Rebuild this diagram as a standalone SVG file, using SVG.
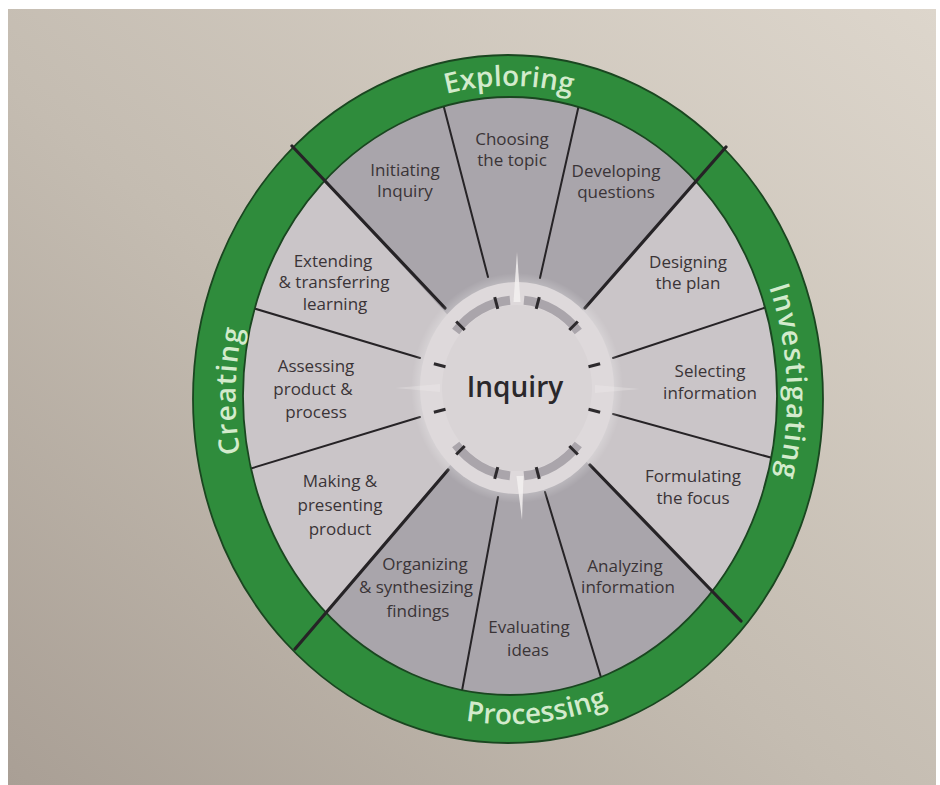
<svg xmlns="http://www.w3.org/2000/svg" width="940" height="785" viewBox="0 0 940 785">
  <defs>
    <linearGradient id="paper" x1="0" y1="1" x2="1" y2="0">
      <stop offset="0" stop-color="#a99f95"/>
      <stop offset="0.45" stop-color="#c4bcb1"/>
      <stop offset="1" stop-color="#ddd6cc"/>
    </linearGradient>
    <radialGradient id="hubGlow" cx="0.5" cy="0.5" r="0.5">
      <stop offset="0.8" stop-color="#ffffff" stop-opacity="0.5"/>
      <stop offset="1" stop-color="#ffffff" stop-opacity="0"/>
    </radialGradient>
    <!-- baselines for the phase names around the ring -->
    <path id="arcTop" d="M268.2,241.5 A278,311 0 0,1 749.8,241.5"/>
    <path id="arcRight" d="M648,127.7 A278,311 0 0,1 672.4,648.6"/>
    <path id="arcBottom" d="M281.3,608.2 A298,327 0 0,0 767.6,559.5"/>
    <path id="arcLeft" d="M355.2,649.8 A274,306 0 0,1 365.5,136.6"/>
  </defs>
  <style>
    .lbl { font-family: "Open Sans", "Liberation Sans", sans-serif; font-size: 17px; fill: #3a3437; text-anchor: middle; }
    .phase { font-family: "Open Sans", "Liberation Sans", sans-serif; font-size: 28px; font-weight: 600; fill: #d3ebcc; text-anchor: middle; }
    .div { stroke: #262326; stroke-width: 2; stroke-linecap: round; fill: none; }
    .major { stroke-width: 3.2; }
    .tick { stroke: #2d2a2d; stroke-width: 3; }
    .band { stroke: #aaa5ab; stroke-width: 9; fill: none; }
    .spike { fill: #f3f0f0; }
  </style>

  <!-- page -->
  <rect width="940" height="785" fill="#ffffff"/>
  <rect x="8" y="9" width="928" height="776" fill="url(#paper)"/>

  <!-- wheel body -->
  <g id="wheel">
    <ellipse cx="510" cy="396" rx="269" ry="301" fill="#cac5c8"/>
    <polygon id="sector-exploring" fill="#a9a5ab" points="515,388 293,147 363,119 434,87 509,76 584,87 654,119 725,148"/>
    <polygon id="sector-processing" fill="#a9a5ab" points="515,388 740,620 654,675 584,707 509,718 434,707 363,675 296,648"/>
  </g>

  <!-- dividers between the stages -->
  <g id="connectors">
    <line class="div" x1="488" y1="277" x2="441" y2="96"/>
    <line class="div" x1="540" y1="278" x2="580" y2="100"/>
    <line class="div" x1="613" y1="358" x2="770" y2="306"/>
    <line class="div" x1="613" y1="414" x2="776" y2="459"/>
    <line class="div" x1="545" y1="492" x2="603" y2="684"/>
    <line class="div" x1="498" y1="497" x2="461" y2="696"/>
    <line class="div" x1="420" y1="417" x2="246" y2="470"/>
    <line class="div" x1="420" y1="358" x2="246" y2="306"/>
  </g>

  <!-- green phase ring -->
  <path id="ring" fill="#2f8c3c" fill-rule="evenodd" stroke="#1a4620" stroke-width="1.8"
        d="M193,399 A315,344 0 1,0 823,399 A315,344 0 1,0 193,399 Z M243,396 A267,299 0 1,0 777,396 A267,299 0 1,0 243,396 Z"/>

  <!-- phase boundaries run across the ring -->
  <g id="phase-boundaries">
    <line class="div major" x1="445" y1="308" x2="292" y2="146"/>
    <line class="div major" x1="585" y1="308" x2="726" y2="147"/>
    <line class="div major" x1="590" y1="465" x2="741" y2="621"/>
    <line class="div major" x1="448" y1="470" x2="295" y2="649"/>
  </g>

  <!-- central hub -->
  <g id="hub">
    <ellipse cx="517" cy="388" rx="106" ry="115" fill="url(#hubGlow)"/>
    <ellipse cx="517" cy="388" rx="97" ry="106" fill="#ded9db"/>
    <ellipse cx="517" cy="388" rx="75" ry="83" fill="#d9d4d6"/>
    <path class="band" d="M455.7,331.4 A80,88 0 0,1 510,300.3"/>
    <path class="band" d="M524,300.3 A80,88 0 0,1 578.3,331.4"/>
    <path class="band" d="M578.3,444.6 A80,88 0 0,1 524,475.7"/>
    <path class="band" d="M510,475.7 A80,88 0 0,1 455.7,444.6"/>
    <polygon class="spike" opacity="0.85" points="517,252 513.5,302 520.5,302"/>
    <polygon class="spike" opacity="0.85" points="522,520 516.5,476 523.5,476"/>
    <polygon class="spike" opacity="0.3" points="395,388 440,384 440,392"/>
    <polygon class="spike" opacity="0.3" points="640,389 595,385 595,393"/>
    <g id="hub-ticks">
      <line class="tick" x1="536.2" y1="308.8" x2="539.3" y2="297.2"/>
      <line class="tick" x1="497.8" y1="308.8" x2="494.7" y2="297.2"/>
      <line class="tick" x1="569.3" y1="330" x2="577.8" y2="321.5"/>
      <line class="tick" x1="464.7" y1="330" x2="456.2" y2="321.5"/>
      <line class="tick" x1="588.5" y1="366.8" x2="600.1" y2="363.7"/>
      <line class="tick" x1="445.5" y1="366.8" x2="433.9" y2="363.7"/>
      <line class="tick" x1="588.5" y1="409.2" x2="600.1" y2="412.3"/>
      <line class="tick" x1="445.5" y1="409.2" x2="433.9" y2="412.3"/>
      <line class="tick" x1="569.3" y1="446" x2="577.8" y2="454.5"/>
      <line class="tick" x1="464.7" y1="446" x2="456.2" y2="454.5"/>
      <line class="tick" x1="536.2" y1="467.2" x2="539.3" y2="478.8"/>
      <line class="tick" x1="497.8" y1="467.2" x2="494.7" y2="478.8"/>
    </g>
    <text x="515" y="397" font-family="'Open Sans', 'Liberation Sans', sans-serif" font-size="28" font-weight="600" fill="#2b282b" text-anchor="middle">Inquiry</text>
  </g>

  <!-- stages -->
  <g id="initiating-inquiry"><text class="lbl" x="405" y="176">Initiating<tspan x="405" dy="21">Inquiry</tspan></text></g>
  <g id="choosing-the-topic"><text class="lbl" x="512" y="145">Choosing<tspan x="512" dy="21">the topic</tspan></text></g>
  <g id="developing-questions"><text class="lbl" x="616" y="177">Developing<tspan x="616" dy="21">questions</tspan></text></g>
  <g id="designing-the-plan"><text class="lbl" x="688" y="268">Designing<tspan x="688" dy="21">the plan</tspan></text></g>
  <g id="selecting-information"><text class="lbl" x="710" y="377">Selecting<tspan x="710" dy="22">information</tspan></text></g>
  <g id="formulating-the-focus"><text class="lbl" x="693" y="482">Formulating<tspan x="693" dy="22">the focus</tspan></text></g>
  <g id="analyzing-information"><text class="lbl" x="625" y="572">Analyzing<tspan x="628" dy="21">information</tspan></text></g>
  <g id="evaluating-ideas"><text class="lbl" x="529" y="633">Evaluating<tspan x="528" dy="23">ideas</tspan></text></g>
  <g id="organizing-synthesizing-findings"><text class="lbl" x="425" y="570">Organizing<tspan x="416" dy="23">&amp; synthesizing</tspan><tspan x="418" dy="24">findings</tspan></text></g>
  <g id="making-presenting-product"><text class="lbl" x="340" y="487">Making &amp;<tspan x="340" dy="24">presenting</tspan><tspan x="340" dy="24">product</tspan></text></g>
  <g id="assessing-product-process"><text class="lbl" x="316" y="372">Assessing<tspan x="313" dy="23">product &amp;</tspan><tspan x="316" dy="23">process</tspan></text></g>
  <g id="extending-transferring-learning"><text class="lbl" x="333" y="267">Extending<tspan x="334" dy="21">&amp; transferring</tspan><tspan x="335" dy="22">learning</tspan></text></g>

  <!-- phases -->
  <g id="phase-exploring"><text class="phase"><textPath href="#arcTop" startOffset="50%">Exploring</textPath></text></g>
  <g id="phase-investigating"><text class="phase" font-size="29" letter-spacing="1.5"><textPath href="#arcRight" startOffset="50%">Investigating</textPath></text></g>
  <g id="phase-processing"><text class="phase"><textPath href="#arcBottom" startOffset="50%">Processing</textPath></text></g>
  <g id="phase-creating"><text class="phase" font-size="31" letter-spacing="1.5"><textPath href="#arcLeft" startOffset="50%">Creating</textPath></text></g>
</svg>
